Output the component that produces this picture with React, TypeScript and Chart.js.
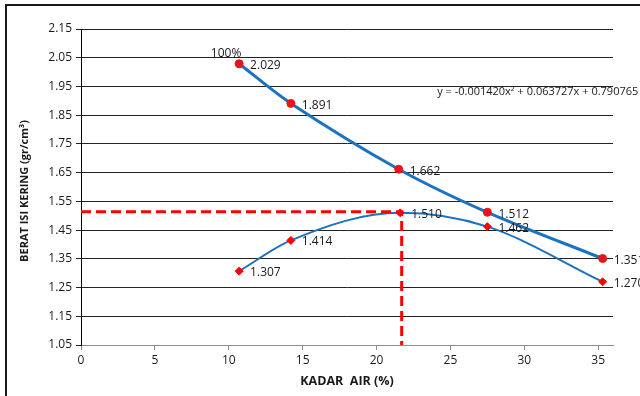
import { useEffect, useRef } from 'react';
import Chart from 'chart.js/auto';

// Upper series: dry density vs water content (circles)
const upperX = [10.7, 14.2, 21.5, 27.5, 35.3];
const upperY = [2.029, 1.891, 1.662, 1.512, 1.351];
const upperLabels = ['2.029', '1.891', '1.662', '1.512', '1.351'];

// Lower series: compaction curve (diamonds)
const lowerX = [10.7, 14.2, 21.6, 27.5, 35.3];
const lowerY = [1.307, 1.414, 1.51, 1.462, 1.27];
const lowerLabels = ['1.307', '1.414', '1.510', '1.462', '1.270'];

// Guide lines (optimum point)
const guideX = [0, 21.7, 21.7];
const guideY = [1.514, 1.514, 1.05];

const xTicks = [0, 5, 10, 15, 20, 25, 30, 35];
const yTicks = [1.05, 1.15, 1.25, 1.35, 1.45, 1.55, 1.65, 1.75, 1.85, 1.95, 2.05, 2.15];

const equationText = 'y = -0.001420x\u00B2 + 0.063727x + 0.790765';
const firstPointNote = '100%';
const xTitle = 'KADAR  AIR (%)';
const yTitle = 'BERAT ISI KERING (gr/cm\u00B3)';

const FONT = '"Open Sans", "Liberation Sans", sans-serif';

export default function App() {
  const ref = useRef<HTMLCanvasElement | null>(null);

  useEffect(() => {
    if (!ref.current) return;
    const textPlugin = {
      id: 'textPlugin',
      afterDatasetsDraw(chart: any) {
        const ctx = chart.ctx;
        ctx.save();
        ctx.fillStyle = '#1a1a1a';
        ctx.font = `12px ${FONT}`;
        ctx.textAlign = 'left';
        ctx.textBaseline = 'middle';
        const m0 = chart.getDatasetMeta(1);
        m0.data.forEach((p: any, i: number) => {
          ctx.fillText(upperLabels[i], p.x + 11, p.y + 2);
        });
        const m1 = chart.getDatasetMeta(2);
        m1.data.forEach((p: any, i: number) => {
          ctx.fillText(lowerLabels[i], p.x + 11, p.y + 1.5);
        });
        // 100% note
        const p0 = m0.data[0];
        ctx.textAlign = 'center';
        ctx.fillText(firstPointNote, p0.x - 13, p0.y - 10);
        // equation
        ctx.font = `11px ${FONT}`;
        ctx.textAlign = 'left';
        const xs = chart.scales.x;
        const ys = chart.scales.y;
        ctx.fillText(equationText, xs.getPixelForValue(24.1), ys.getPixelForValue(1.93));
        // axis titles
        const ca = chart.chartArea;
        ctx.font = `bold 12.5px ${FONT}`;
        ctx.textAlign = 'center';
        ctx.fillText(xTitle, (ca.left + ca.right) / 2, 381);
        ctx.save();
        ctx.translate(25, (ca.top + ca.bottom) / 2 + 4);
        ctx.rotate(-Math.PI / 2);
        ctx.font = `bold 11px ${FONT}`;
        ctx.fillText(yTitle, 0, 0);
        ctx.restore();
        ctx.restore();
      },
    };

    const chart = new Chart(ref.current, {
      type: 'scatter',
      data: {
        datasets: [
          {
            data: guideX.map((x, i) => ({ x, y: guideY[i] })),
            showLine: true,
            borderColor: '#ff0000',
            borderWidth: 3,
            borderDash: [10, 5],
            pointRadius: 0,
            order: 0,
          },
          {
            data: upperX.map((x, i) => ({ x, y: upperY[i] })),
            showLine: true,
            borderColor: '#1a72c0',
            borderWidth: 3,
            tension: 0.3,
            pointStyle: 'circle',
            pointRadius: 4,
            pointBorderWidth: 1,
            pointBackgroundColor: '#e8141c',
            pointBorderColor: '#e8141c',
            order: 1,
          },
          {
            data: lowerX.map((x, i) => ({ x, y: lowerY[i] })),
            showLine: true,
            borderColor: '#1a72c0',
            borderWidth: 2,
            cubicInterpolationMode: 'monotone',
            pointStyle: 'rectRot',
            pointRadius: 4,
            pointBorderWidth: 1,
            pointBackgroundColor: '#ff0000',
            pointBorderColor: '#ff0000',
            order: 2,
          },
        ],
      },
      options: {
        animation: false,
        responsive: false,
        maintainAspectRatio: false,
        layout: { padding: { left: 0, top: 29, right: 27, bottom: 0 } },
        plugins: { legend: { display: false }, tooltip: { enabled: false } },
        scales: {
          x: {
            type: 'linear',
            min: 0,
            max: 36,
            afterBuildTicks: (s: any) => {
              s.ticks = xTicks.map((v) => ({ value: v }));
            },
            afterFit: (s: any) => {
              s.height = 51;
            },
            grid: { drawOnChartArea: false, drawTicks: true, tickLength: 5, color: '#8c8c8c' },
            border: { display: true, color: '#8c8c8c', width: 1 },
            ticks: {
              color: '#1a1a1a',
              font: { family: FONT, size: 12 },
              padding: 3,
              maxRotation: 0,
              callback: (v: any) => String(v),
            },
          },
          y: {
            type: 'linear',
            min: 1.05,
            max: 2.15,
            afterBuildTicks: (s: any) => {
              s.ticks = yTicks.map((v) => ({ value: v }));
            },
            afterFit: (s: any) => {
              s.width = 81;
            },
            grid: { drawOnChartArea: true, drawTicks: true, tickLength: 5, color: '#222222', lineWidth: 1 },
            border: { display: true, color: '#000000', width: 1 },
            ticks: {
              color: '#1a1a1a',
              font: { family: FONT, size: 12 },
              padding: 4,
              callback: (v: any) => Number(v).toFixed(2),
            },
          },
        },
      },
      plugins: [textPlugin],
    } as any);
    return () => chart.destroy();
  }, []);

  return (
    <div style={{ position: 'fixed', left: 0, top: 0, width: 640, height: 396, overflow: 'hidden', background: '#ffffff' }}>
      <div
        style={{
          position: 'absolute',
          left: 5,
          top: 4,
          width: 700,
          height: 500,
          border: '2px solid #1a1a1a',
          boxSizing: 'border-box',
        }}
      />
      <canvas ref={ref} width={640} height={396} style={{ position: 'absolute', left: 0, top: 0, width: 640, height: 396 }} />
    </div>
  );
}
